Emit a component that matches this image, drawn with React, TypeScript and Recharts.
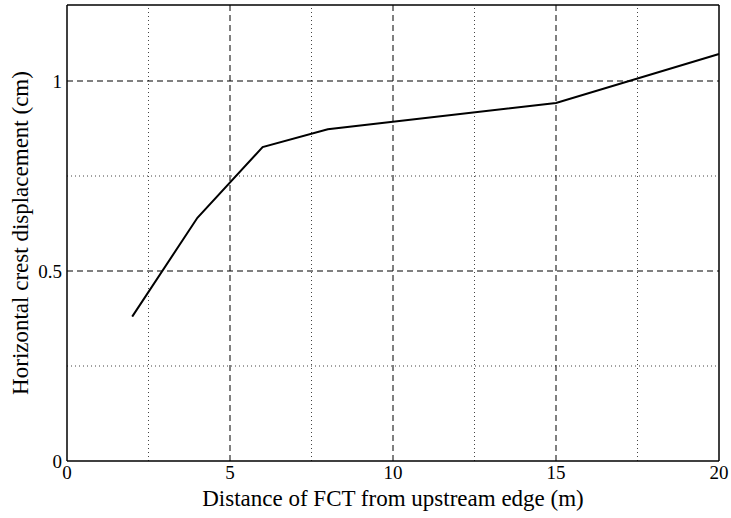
import { LineChart, Line, XAxis, YAxis, ReferenceLine } from 'recharts';

// distance of FCT from upstream edge (m)
const distances = [2, 4, 6, 8, 15, 20];
// horizontal crest displacement (cm)
const displacements = [0.38, 0.64, 0.826, 0.873, 0.942, 1.071];

const xTicks = [0, 5, 10, 15, 20];
const yTicks = [0, 0.5, 1];
const xMajorGrid = [5, 10, 15];
const xMinorGrid = [2.5, 7.5, 12.5, 17.5];
const yMajorGrid = [0.5, 1];
const yMinorGrid = [0.25, 0.75];

const data = distances.map((d, i) => ({ x: d, y: displacements[i] }));

const font = "'Liberation Serif', 'DejaVu Serif', serif";

export default function App() {
    return (
        <div
            style={{
                position: 'absolute',
                left: 0,
                top: 0,
                width: 731,
                height: 518,
                background: '#fff',
                fontFamily: font,
            }}
        >
            <LineChart
                width={731}
                height={518}
                data={data}
                margin={{ top: 5, right: 12, left: 0, bottom: 0 }}
                style={{ fontFamily: font }}
            >
                {xMinorGrid.map((v) => (
                    <ReferenceLine key={'xm' + v} x={v} stroke="#444" strokeDasharray="1 3" />
                ))}
                {yMinorGrid.map((v) => (
                    <ReferenceLine key={'ym' + v} y={v} stroke="#444" strokeDasharray="1 3" />
                ))}
                {xMajorGrid.map((v) => (
                    <ReferenceLine key={'xM' + v} x={v} stroke="#000" strokeDasharray="6 4" />
                ))}
                {yMajorGrid.map((v) => (
                    <ReferenceLine key={'yM' + v} y={v} stroke="#000" strokeDasharray="6 4" />
                ))}
                <ReferenceLine x={20} stroke="#000" strokeWidth={1.5} />
                <ReferenceLine y={1.2} stroke="#000" strokeWidth={1.5} />
                <XAxis
                    dataKey="x"
                    type="number"
                    domain={[0, 20]}
                    ticks={xTicks}
                    height={57}
                    tickLine={false}
                    tickSize={0}
                    tickMargin={5}
                    axisLine={{ stroke: '#000', strokeWidth: 1.5 }}
                    tick={{ fontSize: 19, fill: '#000', fontFamily: font }}
                    label={{
                        value: 'Distance of FCT from upstream edge (m)',
                        position: 'insideBottom',
                        offset: 12,
                        style: { fontSize: 23, fill: '#000', fontFamily: font },
                    }}
                />
                <YAxis
                    type="number"
                    domain={[0, 1.2]}
                    ticks={yTicks}
                    width={67}
                    tickLine={false}
                    tickSize={0}
                    tickMargin={5}
                    axisLine={{ stroke: '#000', strokeWidth: 1.5 }}
                    tick={{ fontSize: 19, fill: '#000', fontFamily: font }}
                    label={{
                        value: 'Horizontal crest displacement (cm)',
                        angle: -90,
                        position: 'insideLeft',
                        offset: 20,
                        style: { fontSize: 23, fill: '#000', fontFamily: font, textAnchor: 'middle' },
                    }}
                />
                <Line
                    dataKey="y"
                    type="linear"
                    stroke="#000"
                    strokeWidth={2}
                    dot={false}
                    isAnimationActive={false}
                />
            </LineChart>
        </div>
    );
}
